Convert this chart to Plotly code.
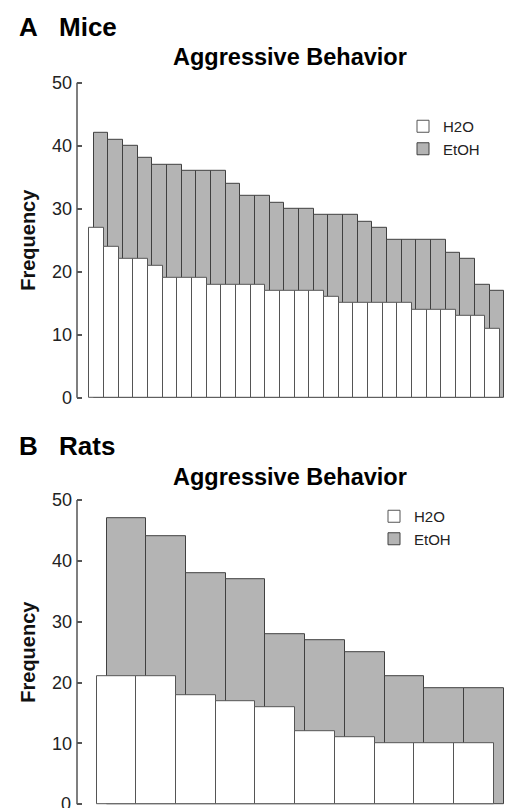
import plotly.graph_objects as go

# ---------------- data ----------------
mice_h2o = [27, 24, 22, 22, 21, 19, 19, 19, 18, 18, 18, 18, 17, 17,
            17, 17, 16, 15, 15, 15, 15, 15, 14, 14, 14, 13, 13, 11]
mice_etoh = [42, 41, 40, 38, 37, 37, 36, 36, 36, 34, 32, 32, 31, 30,
             30, 29, 29, 29, 28, 27, 25, 25, 25, 25, 23, 22, 18, 17]
rats_h2o = [21, 21, 18, 17, 16, 12, 11, 10, 10, 10]
rats_etoh = [47, 44, 38, 37, 28, 27, 25, 21, 19, 19]
y_ticks = [0, 10, 20, 30, 40, 50]

W, H = 511, 808
FONT = "Liberation Sans, Arial, Helvetica, sans-serif"
GRAY = "#b4b4b4"


def px(x):
    return x / W


def py(y):
    return (H - y) / H


mice_x = list(range(len(mice_h2o)))
rats_x = list(range(len(rats_h2o)))

fig = go.Figure()

# Mice (panel A): EtOH behind, H2O in front
fig.add_trace(go.Bar(x=mice_x, y=mice_etoh, name="EtOH", offset=-0.2, width=1,
                     marker=dict(color=GRAY, line=dict(color="#404040", width=1)),
                     xaxis="x", yaxis="y", legend="legend", legendrank=2))
fig.add_trace(go.Bar(x=mice_x, y=mice_h2o, name="H2O", offset=-0.5, width=1,
                     marker=dict(color="white", line=dict(color="#555555", width=1)),
                     xaxis="x", yaxis="y", legend="legend", legendrank=1))
# Rats (panel B)
fig.add_trace(go.Bar(x=rats_x, y=rats_etoh, name="EtOH", offset=-0.25, width=1,
                     marker=dict(color=GRAY, line=dict(color="#404040", width=1)),
                     xaxis="x2", yaxis="y2", legend="legend2", legendrank=2))
fig.add_trace(go.Bar(x=rats_x, y=rats_h2o, name="H2O", offset=-0.5, width=1,
                     marker=dict(color="white", line=dict(color="#555555", width=1)),
                     xaxis="x2", yaxis="y2", legend="legend2", legendrank=1))

yaxis_common = dict(
    range=[-0.3, 50.3], tickvals=y_ticks, ticktext=[str(v) for v in y_ticks],
    ticks="inside", ticklen=5, tickwidth=1.5, tickcolor="#555555",
    ticklabelstandoff=4,
    showline=False, showgrid=False, zeroline=False, automargin=False,
    tickfont=dict(family=FONT, size=18, color="#222222"),
    title=dict(text="<b>Frequency</b>", font=dict(family=FONT, size=20, color="#111111"),
               standoff=10),
)
xaxis_common = dict(showline=False, showgrid=False, zeroline=False, automargin=False,
                    showticklabels=False, ticks="")

fig.update_layout(
    width=W, height=H,
    margin=dict(l=0, r=0, t=0, b=0, autoexpand=False),
    paper_bgcolor="white", plot_bgcolor="white",
    barmode="overlay",
    bargap=0,
    xaxis=dict(xaxis_common, domain=[px(77), 1], range=[-1.338, 28.25], anchor="y"),
    yaxis=dict(yaxis_common, domain=[py(399.6), py(80.8)], anchor="x"),
    xaxis2=dict(xaxis_common, domain=[px(77), 1], range=[-0.996, 9.936], anchor="y2"),
    yaxis2=dict(yaxis_common, domain=[py(806.1), py(498.2)], anchor="x2"),
    legend=dict(x=px(403), y=py(110), xanchor="left", yanchor="top",
                font=dict(family=FONT, size=15, color="#222222"),
                bgcolor="rgba(0,0,0,0)", borderwidth=0, traceorder="normal",
                itemwidth=30),
    legend2=dict(x=px(374), y=py(500), xanchor="left", yanchor="top",
                 font=dict(family=FONT, size=15, color="#222222"),
                 bgcolor="rgba(0,0,0,0)", borderwidth=0, traceorder="normal",
                 itemwidth=30),
    showlegend=True,
)

# y-axis lines from 0 to 50
for xr, yr in (("x domain", "y"), ("x2 domain", "y2")):
    fig.add_shape(type="line", xref=xr, yref=yr, x0=0, x1=0, y0=0, y1=50,
                  line=dict(color="#555555", width=1.5))

ann = []
for letter, name, yc in (("A", "Mice", 27), ("B", "Rats", 446)):
    ann.append(dict(text=f"<b>{letter}</b>", x=px(17), y=py(yc), xref="paper", yref="paper",
                    xanchor="left", yanchor="middle", showarrow=False,
                    font=dict(family=FONT, size=26, color="black")))
    ann.append(dict(text=f"<b>{name}</b>", x=px(57), y=py(yc), xref="paper", yref="paper",
                    xanchor="left", yanchor="middle", showarrow=False,
                    font=dict(family=FONT, size=26, color="black")))
for yc in (57, 477):
    ann.append(dict(text="<b>Aggressive Behavior</b>", x=px(290), y=py(yc),
                    xref="paper", yref="paper", xanchor="center", yanchor="middle",
                    showarrow=False, font=dict(family=FONT, size=23.5, color="black")))
# bottom "0" label of panel B sits on the page edge; plotly drops it, so add it as text
ann.append(dict(text=str(y_ticks[0]), x=px(73), y=y_ticks[0], xref="paper", yref="y2",
                xanchor="right", yanchor="middle", showarrow=False,
                font=dict(family=FONT, size=18, color="#222222")))
fig.update_layout(annotations=ann)

fig.write_html("out.html",
               config={"displayModeBar": False},
               post_script="document.body.style.margin='0';document.body.style.overflow='hidden';")
